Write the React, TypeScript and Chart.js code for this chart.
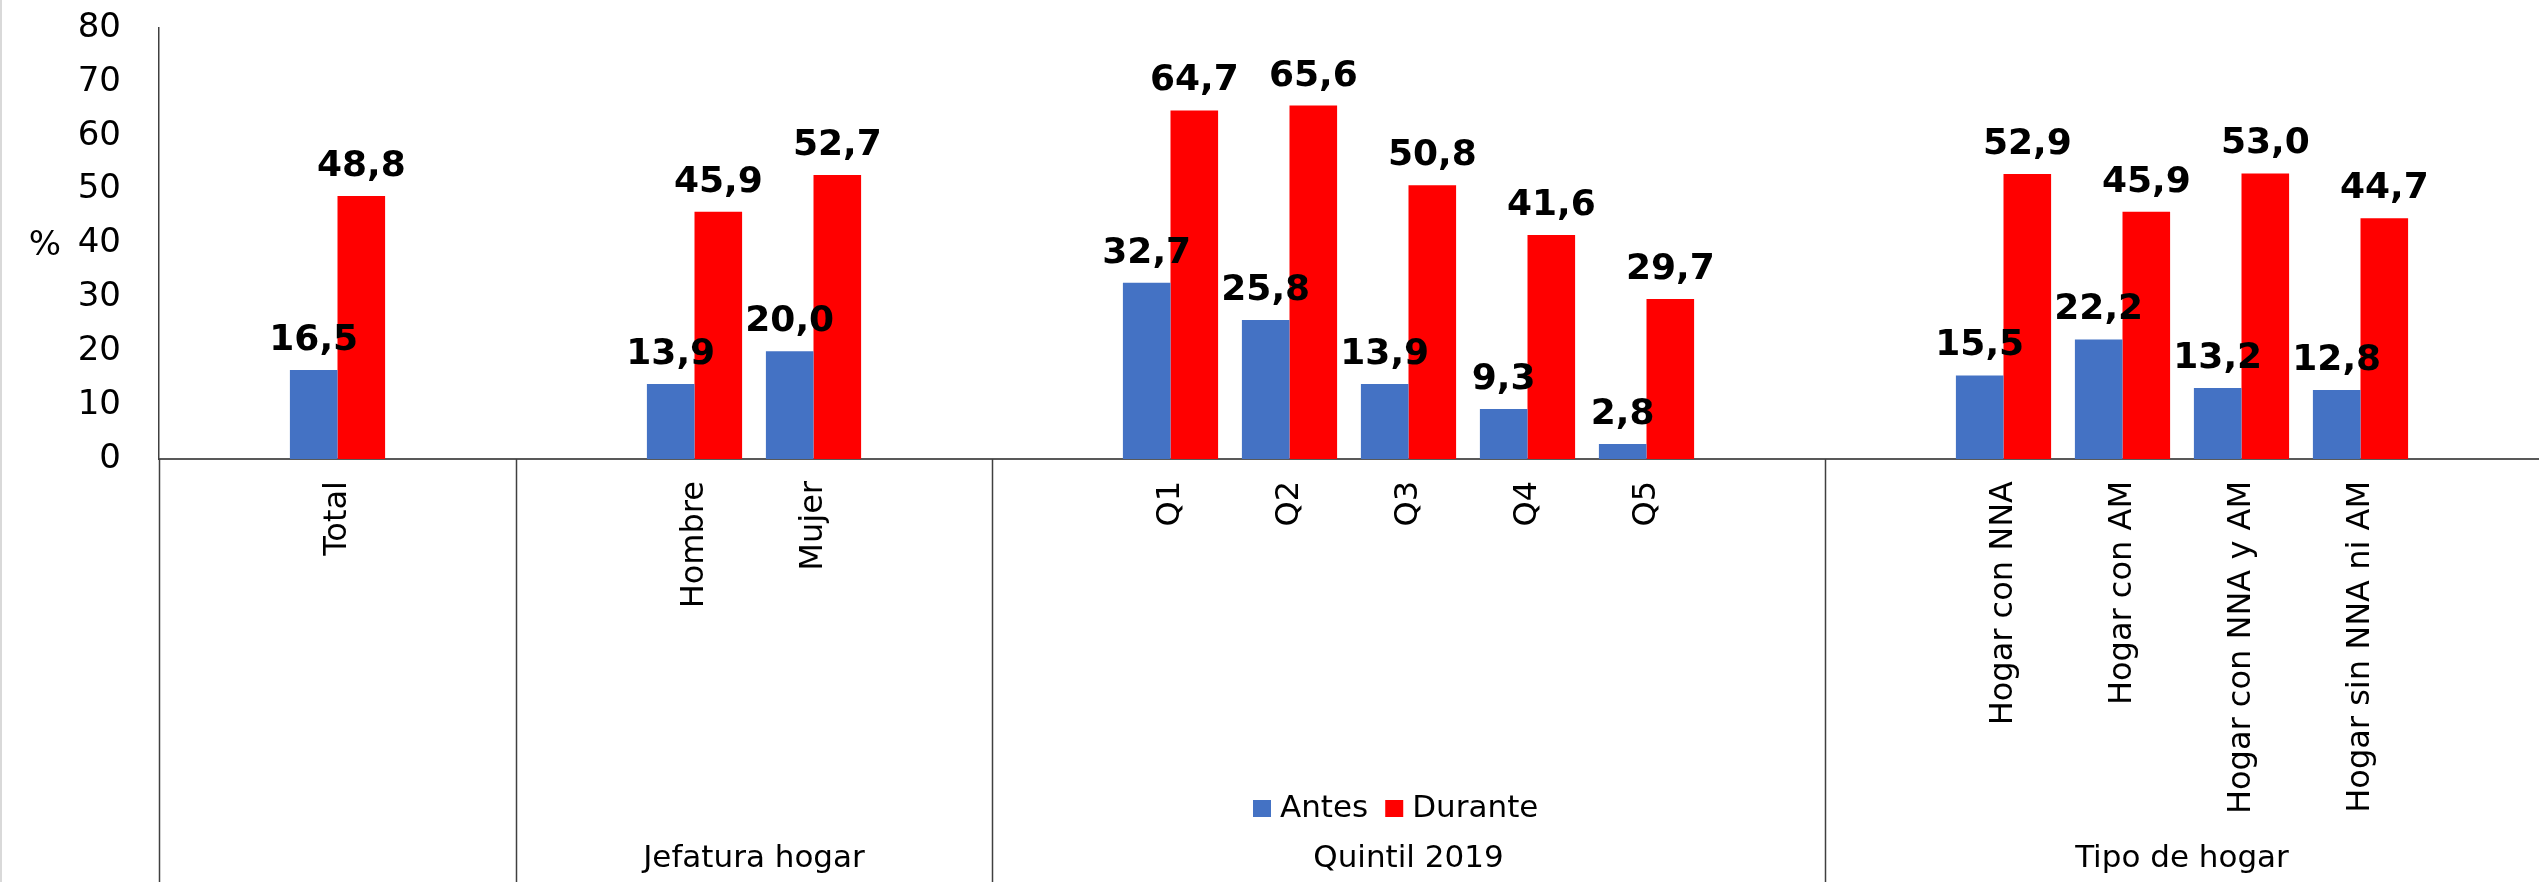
import React, { useEffect, useRef } from "react";
import { Chart, registerables } from "chart.js";

Chart.register(...registerables);

const categories: string[] = [
  "", "Total", "",
  "", "Hombre", "Mujer", "",
  "", "Q1", "Q2", "Q3", "Q4", "Q5", "",
  "", "Hogar con NNA", "Hogar con AM", "Hogar con NNA y AM", "Hogar sin NNA ni AM", "",
];

const antes: (number | null)[] = [
  null, 16.5, null,
  null, 13.9, 20.0, null,
  null, 32.7, 25.8, 13.9, 9.3, 2.8, null,
  null, 15.5, 22.2, 13.2, 12.8, null,
];

const durante: (number | null)[] = [
  null, 48.8, null,
  null, 45.9, 52.7, null,
  null, 64.7, 65.6, 50.8, 41.6, 29.7, null,
  null, 52.9, 45.9, 53.0, 44.7, null,
];

const groupLabels = ["", "Jefatura hogar", "Quintil 2019", "Tipo de hogar"];
const groupStarts = [0, 3, 7, 14];
const groupEnds = [3, 7, 14, 20];

const seriesNames = ["Antes", "Durante"];
const seriesColors = ["#4472C4", "#FF0000"];

const yMin = 0;
const yMax = 80;
const yStep = 10;

const FONT = "'DejaVu Sans', Verdana, sans-serif";

const fmt = (v: number) => v.toFixed(1).replace(".", ",");

const overlayPlugin = {
  id: "overlay",
  afterDatasetsDraw(chart: any) {
    const ctx = chart.ctx;
    ctx.save();
    ctx.fillStyle = "#000";
    ctx.font = `bold 36px ${FONT}`;
    ctx.textAlign = "center";
    ctx.textBaseline = "alphabetic";
    chart.data.datasets.forEach((ds: any, di: number) => {
      const meta = chart.getDatasetMeta(di);
      meta.data.forEach((el: any, i: number) => {
        const v = ds.data[i];
        if (v === null || v === undefined) return;
        ctx.fillText(fmt(v), el.x, el.y - 20);
      });
    });
    ctx.restore();
  },
  afterDraw(chart: any) {
    const ctx = chart.ctx;
    const xs = chart.scales.x;
    const ys = chart.scales.y;
    const slot = xs.getPixelForValue(1) - xs.getPixelForValue(0);
    const edge = (i: number) => xs.getPixelForValue(i) - slot / 2;
    const base = ys.getPixelForValue(0);
    const H = chart.height;
    ctx.save();
    ctx.fillStyle = "#d9d9d9";
    ctx.fillRect(0, 0, 2, H);
    ctx.strokeStyle = "#404040";
    ctx.lineWidth = 1.5;
    groupStarts.forEach((s) => {
      const px = Math.round(edge(s)) + 0.5;
      ctx.beginPath();
      ctx.moveTo(px, base);
      ctx.lineTo(px, H);
      ctx.stroke();
    });
    ctx.fillStyle = "#000";
    ctx.font = `31px ${FONT}`;
    ctx.textAlign = "center";
    ctx.textBaseline = "middle";
    groupLabels.forEach((lab, gi) => {
      if (!lab) return;
      const cx = (edge(groupStarts[gi]) + edge(groupEnds[gi])) / 2;
      ctx.fillText(lab, cx, 859);
    });
    ctx.font = `34px ${FONT}`;
    ctx.textAlign = "center";
    ctx.fillText("%", 45, ys.getPixelForValue(39.5));
    ctx.font = `31px ${FONT}`;
    ctx.textAlign = "left";
    ctx.textBaseline = "middle";
    let lx = 1253;
    const ly = 808;
    seriesNames.forEach((name, si) => {
      ctx.fillStyle = seriesColors[si];
      ctx.fillRect(lx, ly - 8, 18, 17);
      ctx.fillStyle = "#000";
      ctx.fillText(name, lx + 27, ly + 1);
      lx += 27 + ctx.measureText(name).width + 17;
    });
    ctx.restore();
  },
};

export default function App() {
  const ref = useRef<HTMLCanvasElement | null>(null);
  useEffect(() => {
    document.body.style.margin = "0";
    if (!ref.current) return;
    const chart = new Chart(ref.current, {
      type: "bar",
      data: {
        labels: categories,
        datasets: [
          {
            label: seriesNames[0],
            data: antes,
            backgroundColor: seriesColors[0],
            categoryPercentage: 0.8,
            barPercentage: 1.0,
          },
          {
            label: seriesNames[1],
            data: durante,
            backgroundColor: seriesColors[1],
            categoryPercentage: 0.8,
            barPercentage: 1.0,
          },
        ],
      },
      options: {
        responsive: false,
        animation: false,
        devicePixelRatio: 1,
        layout: { autoPadding: false, padding: { top: 28, right: 0, left: 0, bottom: 0 } },
        plugins: {
          legend: { display: false },
          tooltip: { enabled: false },
        },
        scales: {
          x: {
            grid: { display: false, drawTicks: false },
            border: { display: true, color: "#595959", width: 2 },
            ticks: {
              autoSkip: false,
              minRotation: 90,
              maxRotation: 90,
              padding: 22,
              color: "#000",
              font: { family: FONT, size: 32 },
            },
            afterFit: (scale: any) => {
              scale.height = 423;
              scale.paddingTop = 0;
              scale.paddingBottom = 0;
              scale.paddingLeft = 0;
              scale.paddingRight = 0;
            },
          },
          y: {
            min: yMin,
            max: yMax,
            grid: { display: false, drawTicks: false },
            border: { display: true, color: "#404040", width: 1.5 },
            ticks: {
              stepSize: yStep,
              padding: 38,
              color: "#000",
              font: { family: FONT, size: 34 },
            },
            afterFit: (scale: any) => {
              scale.width = 159;
              scale.paddingTop = 0;
              scale.paddingBottom = 0;
            },
          },
        },
      },
      plugins: [overlayPlugin],
    });
    return () => chart.destroy();
  }, []);
  return (
    <canvas
      ref={ref}
      width={2539}
      height={882}
      style={{ display: "block", width: 2539, height: 882 }}
    />
  );
}
